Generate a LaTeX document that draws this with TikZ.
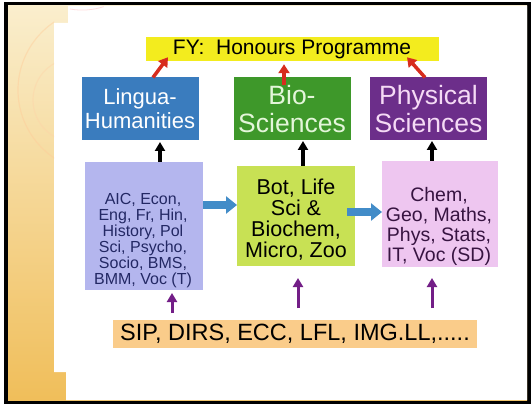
\documentclass[tikz,border=0pt]{standalone}
\usepackage{fontspec}
\setmainfont{Liberation Sans}
\usetikzlibrary{arrows.meta,calc}
\definecolor{ttlyellow}{RGB}{243,236,30}
\definecolor{lhblue}{RGB}{58,124,190}
\definecolor{biogreen}{RGB}{62,152,42}
\definecolor{biotext}{RGB}{228,246,218}
\definecolor{physpurple}{RGB}{108,46,138}
\definecolor{phystext}{RGB}{245,218,245}
\definecolor{lav}{RGB}{180,182,238}
\definecolor{lavtext}{RGB}{35,40,100}
\definecolor{gyellow}{RGB}{200,225,84}
\definecolor{pinkbox}{RGB}{238,198,240}
\definecolor{pinktext}{RGB}{55,20,65}
\definecolor{orangebar}{RGB}{250,204,138}
\definecolor{bluearrow}{RGB}{66,140,200}
\definecolor{redarrow}{RGB}{215,45,30}
\definecolor{purarrow}{RGB}{115,30,135}
\definecolor{striptop}{RGB}{250,238,205}
\definecolor{stripbot}{RGB}{240,190,90}
\tikzset{
  boxbase/.style={inner sep=0pt, outer sep=0pt, align=center},
  upbox/.style={boxbase, minimum width=117pt, minimum height=63pt},
  redarr/.style={draw=redarrow, line width=3.5pt, -{Triangle[width=11pt,length=9pt]}},
  blkarr/.style={draw=black, line width=3.2pt, -{Triangle[width=10pt,length=9pt]}},
  purarr/.style={draw=purarrow, line width=3pt, -{Triangle[width=10pt,length=9pt]}},
  bluarr/.style={draw=bluearrow, line width=8pt, -{Triangle[width=17pt,length=11pt]}},
}
\begin{document}
\begin{tikzpicture}[x=1pt,y=-1pt]
\useasboundingbox (0,0) rectangle (532,406);
\fill[white] (0,0) rectangle (532,406);
\fill[black] (4,2) rectangle (531,404);
\shade[top color=striptop, bottom color=stripbot] (8,6) rectangle (527,400);
\fill[white] (68,6) -- (527,6) -- (527,400) -- (66,400) -- (66,372) -- (54,372) -- (54,23) -- (68,23) -- cycle;
% faint decorative arcs
\begin{scope}
\clip (8,6) rectangle (54,372);
\draw[orange!40, line width=1.2pt, opacity=0.45] (100,90) circle[radius=82];
\draw[orange!35, line width=1.2pt, opacity=0.4] (75,100) circle[radius=42];
\end{scope}
\draw[red!25, line width=0.8pt, opacity=0.5] (70,9) arc[start angle=100, end angle=72, radius=70];

% title
\node[boxbase, fill=ttlyellow, minimum width=293pt, minimum height=24.5pt,
      font=\fontsize{21}{23}\selectfont] (fy) at (292,49) {FY:\ \ Honours Programme};

% upper boxes
\node[upbox, fill=lhblue, text=white, font=\fontsize{22}{24}\selectfont] (lh) at (140,109) {Lingua-\\Humanities};
\node[upbox, fill=biogreen, text=biotext, font=\fontsize{26.5}{28}\selectfont] (bio) at (292,109) {Bio-\\Sciences};
\node[upbox, fill=physpurple, text=phystext, font=\fontsize{26.5}{28}\selectfont] (phys) at (428.5,109) {Physical\\Sciences};

% lower boxes
\node[boxbase, fill=lav, minimum width=118pt, minimum height=128pt] (lavbox) at (144,226) {};
\node[boxbase, text=lavtext, font=\fontsize{16}{16}\selectfont] (lavtxt) at (143,241)
  {AIC, Econ,\\Eng, Fr, Hin,\\History, Pol\\Sci, Psycho,\\Socio, BMS,\\BMM, Voc (T)};
\node[boxbase, fill=gyellow, minimum width=118pt, minimum height=100pt] (gybox) at (296,216) {};
\node[boxbase, text=black, font=\fontsize{21.5}{21}\selectfont] (gytxt) at (296,220)
  {Bot, Life\\Sci \&\\Biochem,\\Micro, Zoo};
\node[boxbase, fill=pinkbox, minimum width=116pt, minimum height=106pt] (pkbox) at (440,214) {};
\node[boxbase, text=pinktext, font=\fontsize{19.5}{19.7}\selectfont] (pktxt) at (439,226.5)
  {Chem,\\Geo, Maths,\\Phys, Stats,\\IT, Voc (SD)};

% bottom bar
\node[boxbase, fill=orangebar, minimum width=364pt, minimum height=28pt,
      font=\fontsize{23.5}{25}\selectfont] (bar) at (295,334) {SIP, DIRS, ECC, LFL, IMG.LL,.....};

% red arrows
\draw[redarr] ([xshift=13pt]lh.north) -- ([xshift=-124pt,yshift=4pt]fy.south);
\draw[redarr] ([xshift=-8pt,yshift=-8pt]bio.north) -- ([xshift=-8pt,yshift=-3pt]fy.south);
\draw[redarr] ([xshift=-3.5pt]phys.north) -- ([xshift=115pt,yshift=4pt]fy.south);

% black arrows
\draw[blkarr] ([xshift=16pt]lavbox.north) -- ([xshift=20pt,yshift=-1.5pt]lh.south);
\draw[blkarr] ([xshift=7pt]gybox.north) -- ([xshift=11pt,yshift=-0.5pt]bio.south);
\draw[blkarr] ([xshift=-8pt]pkbox.north) -- ([xshift=3.5pt,yshift=-0.5pt]phys.south);

% blue block arrows
\draw[bluarr] ([yshift=21pt]lavbox.east) -- ([yshift=11pt]gybox.west);
\draw[bluarr] ([xshift=-8pt,yshift=4pt]gybox.east) -- ([yshift=2pt]pkbox.west);

% purple arrows
\draw[purarr] ([xshift=-123pt,yshift=7pt]bar.north) -- ([xshift=28pt,yshift=-3pt]lavbox.south);
\draw[purarr] ([xshift=3pt,yshift=12pt]bar.north) -- ([xshift=2pt,yshift=-12pt]gybox.south);
\draw[purarr] ([xshift=137pt,yshift=12pt]bar.north) -- ([xshift=-8pt,yshift=-11pt]pkbox.south);
\end{tikzpicture}
\end{document}
